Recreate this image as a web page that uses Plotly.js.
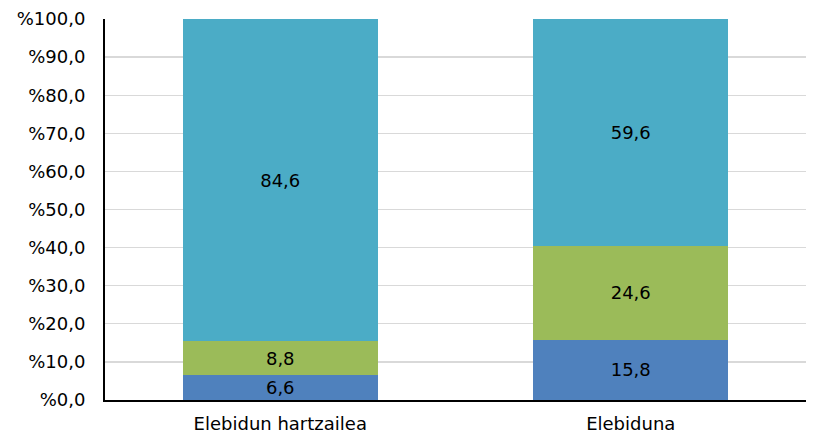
<!DOCTYPE html>
<html><head><meta charset="utf-8">
<script src="https://cdn.plot.ly/plotly-3.0.1.min.js"></script>
<style>html,body{margin:0;padding:0;background:#fff}#c{width:813px;height:434px}</style>
</head><body><div id="c"></div>
<script>
const categories = ["Elebidun hartzailea", "Elebiduna"];
const series1 = [6.6, 15.8];
const series2 = [8.8, 24.6];
const series3 = [84.6, 59.6];
const colors = ["#4F81BD", "#9BBB59", "#4BACC6"];
const yTickVals = [0,10,20,30,40,50,60,70,80,90,100];
const yTickText = yTickVals.map(v => "%" + v.toFixed(1).replace(".", ","));
const fmt = v => v.toFixed(1).replace(".", ",");

const font = {family: "DejaVu Sans, Verdana, sans-serif", size: 18, color: "#000"};
const traces = [series1, series2, series3].map((s, i) => ({
  type: "bar", x: categories, y: s, marker: {color: colors[i], line: {width: 0}},
  text: s.map(fmt), textposition: "inside", insidetextanchor: "middle",
  textfont: font, hoverinfo: "none", cliponaxis: false, constraintext: "none"
}));
const layout = {
  width: 813, height: 434, barmode: "stack", bargap: 0.444, showlegend: false,
  margin: {l: 105, r: 7, t: 19, b: 34},
  paper_bgcolor: "#fff", plot_bgcolor: "#fff", font: font,
  xaxis: {showline: true, linecolor: "#000", linewidth: 2, ticks: "", tickfont: font, showgrid: false, zeroline: false, ticklabelstandoff: 6},
  yaxis: {range: [0, 100], tickvals: yTickVals, ticktext: yTickText, showgrid: true, gridcolor: "#D9D9D9", gridwidth: 1.3,
          showline: true, linecolor: "#000", linewidth: 2, ticks: "", ticklabelstandoff: 14, tickfont: font, zeroline: false}
};
Plotly.newPlot("c", traces, layout, {staticPlot: true, displayModeBar: false});
</script></body></html>
